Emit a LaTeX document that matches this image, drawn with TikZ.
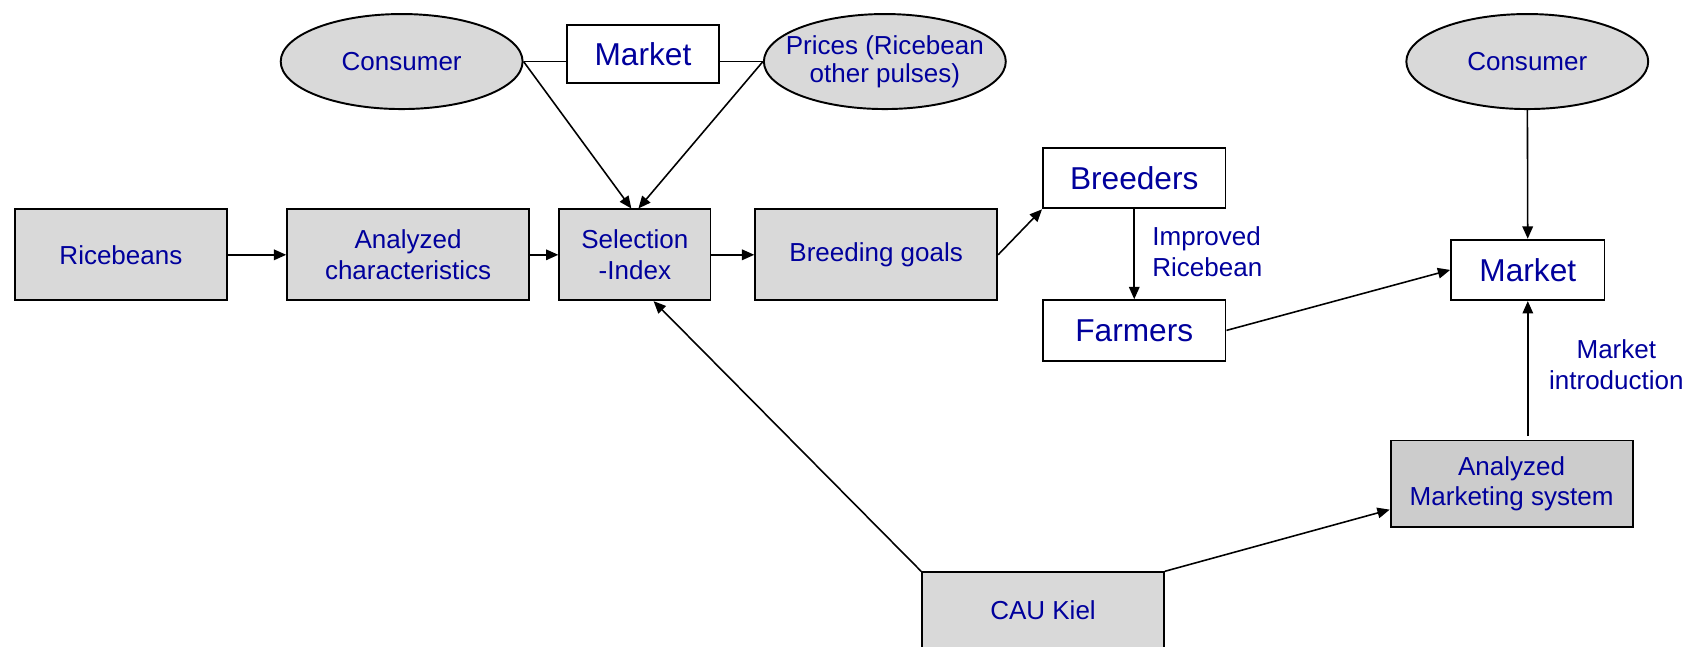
\documentclass[tikz,border=0pt]{standalone}
\usepackage{fontspec}
\setmainfont{Liberation Sans}
\usetikzlibrary{arrows.meta,shapes.geometric}
\definecolor{txtBlue}{HTML}{00009C}
\definecolor{boxGray}{HTML}{D9D9D9}
\definecolor{mktGray}{HTML}{CCCCCC}

\begin{document}
\begin{tikzpicture}[x=0.021595cm,y=-0.021595cm,
  box/.style={draw=black,line width=1.1pt,fill=boxGray,text=txtBlue,
    minimum width=4.837cm,minimum height=1.814cm,align=center,inner sep=2pt,
    font=\fontsize{14.8}{17.5}\selectfont},
  wbox/.style={draw=black,line width=1.1pt,fill=white,text=txtBlue,
    minimum width=3.65cm,minimum height=1.209cm,align=center,inner sep=2pt,
    font=\fontsize{18}{21}\selectfont},
  ell/.style={ellipse,draw=black,line width=1.1pt,fill=boxGray,text=txtBlue,
    minimum width=4.837cm,minimum height=1.9cm,align=center,inner sep=0pt,
    font=\fontsize{14.8}{16}\selectfont},
  lbl/.style={text=txtBlue,inner sep=0pt,font=\fontsize{14.8}{17.5}\selectfont},
  arr/.style={-{Triangle[length=7pt,width=6pt]},line width=0.9pt},
  ln/.style={line width=0.9pt}
]
  \useasboundingbox (0,0) rectangle (1568,599);
  \clip (0,0) rectangle (1568,599);

  % top row: consumer, market, prices
  \node[ell] (cons1) at (372,57) {Consumer};
  \node[wbox,minimum width=3.045cm,minimum height=1.166cm] (mkt1) at (595.5,50) {Market};
  \node[ell,inner xsep=-16pt] (price) at (819.5,57) {Prices (Ricebean\\other pulses)};

  % main chain
  \node[box,minimum width=4.233cm] (rice) at (112,236) {Ricebeans};
  \node[box] (anch) at (378,236) {Analyzed\\characteristics};
  \node[box,minimum width=3.023cm] (sel) at (588,236) {Selection\\-Index};
  \node[box] (goals) at (811.5,236) {Breeding goals};

  \node[wbox] (breed) at (1050.5,165) {Breeders};
  \node[wbox] (farm) at (1050.5,306) {Farmers};
  \node[lbl,anchor=west,align=left] (imp) at (1067,233) {Improved\\Ricebean};

  % right side
  \node[ell] (cons2) at (1414.5,57) {Consumer};
  \node[wbox,minimum width=3.067cm] (mkt2) at (1415,250) {Market};
  \node[box,fill=mktGray,minimum height=1.728cm] (ams) at (1400,448) {Analyzed\\Marketing system};
  \node[lbl,align=center] (intro) at (1497,338) {Market\\introduction};

  \node[box,minimum height=1.512cm] (cau) at (966,565) {CAU Kiel};

  % connectors
  \draw[ln] (cons1.east) -- (cons1.east -| mkt1.west);
  \draw[ln] (price.west -| mkt1.east) -- (price.west);
  \draw[arr] (cons1.east) -- ([xshift=-2pt]sel.north);
  \draw[arr] (price.west) -- ([xshift=2pt]sel.north);
  \draw[arr] (rice) -- (anch);
  \draw[arr] (anch) -- (sel);
  \draw[arr] (sel) -- (goals);
  \draw[arr] (goals.east) -- (breed.south west);
  \draw[arr] (breed) -- (farm);
  \draw[arr] (farm.east) -- (mkt2.west);
  \draw[arr] (cons2) -- (mkt2);
  \draw[arr] ([yshift=2pt]ams.north -| mkt2.south) -- (mkt2.south);
  \draw[arr] (cau.north west) -- (sel.-68);
  \draw[arr] (cau.north east) -- (ams.192);
\end{tikzpicture}
\end{document}
